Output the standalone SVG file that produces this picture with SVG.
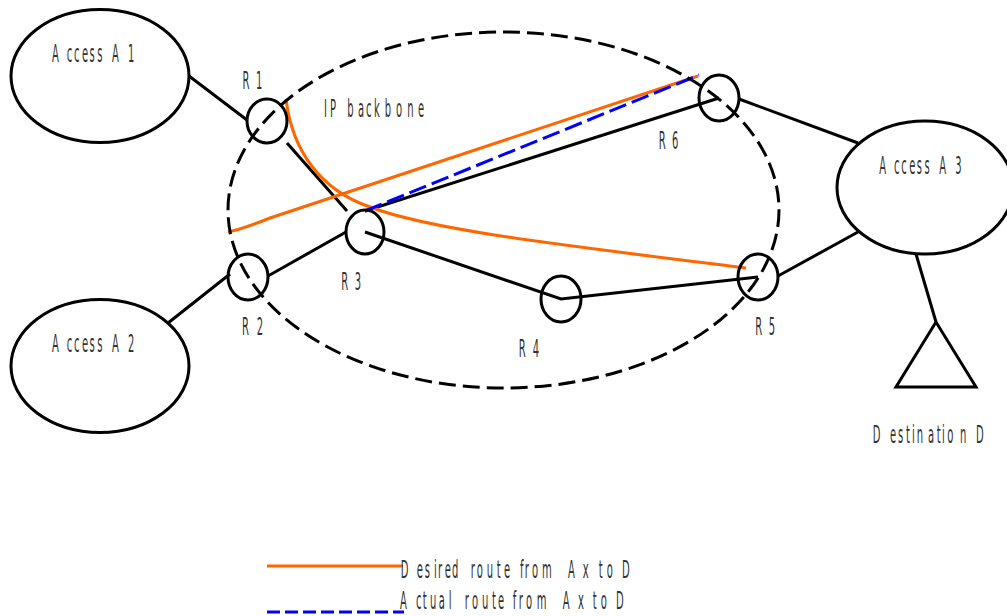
<svg xmlns="http://www.w3.org/2000/svg" width="1007" height="616" viewBox="0 0 1007 616">
<style>
.s{fill:none;stroke:#000;stroke-width:3}
.bb{stroke-dasharray:17 7}
.o{fill:none;stroke:#f60;stroke-width:3}
.b{fill:none;stroke:#00f;stroke-width:3;stroke-dasharray:18 6}
.l{stroke-dasharray:13 5}
text{font-family:"DejaVu Sans",sans-serif;font-size:25px;fill:#333}
</style>
<rect width="1007" height="616" fill="#fff"/>
<g id="connectors">
<path class="s" d="M189 76L247 120M287 143L347 211M168 323L230 274M268 276L346 232M365 232L561 299L758 277M365 211L719 98M739 99L858 143M778 276L858 232M916 254L936 322"/>
<path class="o" d="M228 232C240 230 255 224 270 218L698 76"/>
<path class="o" d="M286 99C292 150 320 190 370 207C430 230 560 245 746 268"/>
<path class="b" d="M365 211L699 75"/>
<path class="o" d="M267 566H403"/>
<path class="b l" d="M267 612H404"/>
</g>
<g id="backbone"><ellipse class="s bb" cx="503.500" cy="210" rx="275.500" ry="178"/><text transform="scale(.4 1)" y="117" x="810 825 840 868 895 915 935 962 990 1018 1045">IP backbone</text></g>
<g id="access-a1"><ellipse class="s" cx="100" cy="76" rx="89" ry="66.500"/><text transform="scale(.4 1)" y="62" x="130 167 185 205 224 243 262 280 320">Access A1</text></g>
<g id="access-a2"><ellipse class="s" cx="100" cy="366" rx="89" ry="66.500"/><text transform="scale(.4 1)" y="352" x="130 167 185 205 224 243 262 280 320">Access A2</text></g>
<g id="access-a3"><ellipse class="s" cx="925" cy="187.500" rx="88" ry="66.500"/><text transform="scale(.4 1)" y="174" x="2198 2235 2253 2273 2292 2311 2330 2348 2388">Access A3</text></g>
<g id="r1"><ellipse class="s" cx="267" cy="121" rx="20" ry="22"/><text transform="scale(.4 1)" y="89" x="606 640">R1</text></g>
<g id="r2"><ellipse class="s" cx="248" cy="277" rx="20" ry="23"/><text transform="scale(.4 1)" y="335" x="605 642">R2</text></g>
<g id="r3"><ellipse class="s" cx="365" cy="232" rx="19" ry="22"/><text transform="scale(.4 1)" y="290" x="853 887">R3</text></g>
<g id="r4"><ellipse class="s" cx="561" cy="299" rx="20" ry="23"/><text transform="scale(.4 1)" y="357" x="1297 1332">R4</text></g>
<g id="r5"><ellipse class="s" cx="758" cy="277" rx="20" ry="23"/><text transform="scale(.4 1)" y="335" x="1888 1922">R5</text></g>
<g id="r6"><ellipse class="s" cx="719" cy="98" rx="20" ry="23"/><text transform="scale(.4 1)" y="149" x="1647 1680">R6</text></g>
<g id="destination"><path class="s" d="M936 322L896 387H976Z"/><text transform="scale(.4 1)" y="443" x="2182 2225 2245 2265 2280 2292 2320 2342 2355 2368 2400 2420 2440">Destination D</text></g>
<g id="legend">
<text transform="scale(.4 1)" y="578" x="1002 1042 1062 1085 1095 1112 1130 1155 1177 1192 1217 1242 1260 1280 1300 1312 1330 1355 1387 1420 1440 1457 1475 1497 1517 1537 1555">Desired route from A x to D</text>
<text transform="scale(.4 1)" y="609" x="1000 1040 1057 1075 1097 1122 1142 1162 1180 1205 1230 1245 1262 1282 1297 1315 1342 1375 1407 1425 1445 1462 1482 1502 1520 1540">Actual route from A x to D</text>
</g>
</svg>
